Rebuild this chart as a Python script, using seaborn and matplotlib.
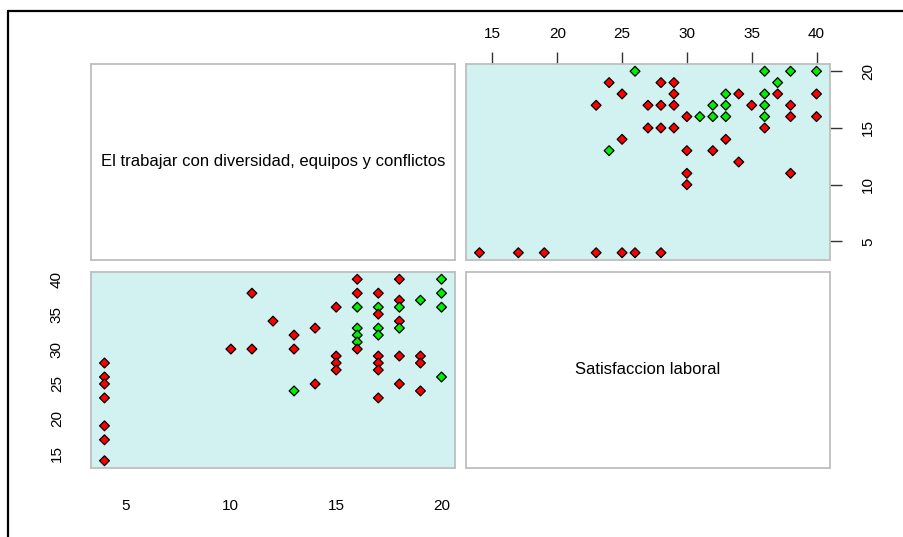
import matplotlib
matplotlib.use("Agg")
import matplotlib.pyplot as plt
import pandas as pd
import seaborn as sns
from matplotlib.lines import Line2D

# datos (pares)
satisfaccion = [4, 4, 4, 4, 4, 4, 4,
                10,
                11, 11,
                12,
                13, 13, 13,
                14, 14,
                15, 15, 15, 15,
                16, 16, 16, 16, 16, 16, 16,
                17, 17, 17, 17, 17, 17, 17, 17, 17,
                18, 18, 18, 18, 18, 18, 18,
                19, 19, 19, 19,
                20, 20, 20, 20]
trabajar = [28, 26, 25, 23, 19, 17, 14,
            30,
            38, 30,
            34,
            32, 30, 24,
            33, 25,
            36, 29, 28, 27,
            40, 38, 36, 33, 32, 31, 30,
            38, 36, 35, 33, 32, 29, 28, 27, 23,
            40, 37, 36, 34, 33, 29, 25,
            37, 29, 28, 24,
            40, 38, 36, 26]
grupo = ["r", "r", "r", "r", "r", "r", "r",
         "r",
         "r", "r",
         "r",
         "r", "r", "g",
         "r", "r",
         "r", "r", "r", "r",
         "r", "r", "g", "g", "g", "g", "r",
         "r", "g", "r", "g", "g", "r", "r", "r", "r",
         "r", "r", "g", "r", "g", "r", "r",
         "g", "r", "r", "r",
         "g", "g", "g", "g"]
etiquetas = ["El trabajar con diversidad, equipos y conflictos", "Satisfaccion laboral"]

df = pd.DataFrame({"trabajar": trabajar, "satisfaccion": satisfaccion, "grupo": grupo})
colores = {"r": "#ff0000", "g": "#00ee00"}

sns.set_style("white")
plt.rcParams["font.family"] = ["Liberation Sans", "DejaVu Sans"]

W, H = 904, 537
fig = plt.figure(figsize=(W / 100, H / 100), dpi=100)


def panel(l, t, r, b):
    return fig.add_axes([l / W, 1 - b / H, (r - l) / W, (b - t) / H])


def extend(lo, hi):
    d = (hi - lo) * 0.04
    return lo - d, hi + d


lim_t = extend(min(trabajar), max(trabajar))
lim_s = extend(min(satisfaccion), max(satisfaccion))

ax_tl = panel(91, 64, 455, 260)
ax_tr = panel(466, 64, 830, 260)
ax_bl = panel(91, 272, 455, 468)
ax_br = panel(466, 272, 830, 468)

for ax in [ax_tl, ax_tr, ax_bl, ax_br]:
    for s in ax.spines.values():
        s.set_visible(True)
        s.set_color("#bebebe")
        s.set_linewidth(1.3)

for ax in [ax_tr, ax_bl]:
    ax.set_facecolor("#d2f2f1")

# scatter panels
sns.scatterplot(data=df, x="trabajar", y="satisfaccion", hue="grupo", palette=colores,
                marker="D", s=25, edgecolor="black", linewidth=0.9, legend=False, ax=ax_tr)
sns.scatterplot(data=df, x="satisfaccion", y="trabajar", hue="grupo", palette=colores,
                marker="D", s=25, edgecolor="black", linewidth=0.9, legend=False, ax=ax_bl)

ax_tr.set_xlim(lim_t)
ax_tr.set_ylim(lim_s)
ax_tr.set_xticks([15, 20, 25, 30, 35, 40])
ax_tr.set_yticks([5, 10, 15, 20])
ax_tr.xaxis.tick_top()
ax_tr.yaxis.tick_right()

ax_bl.set_xlim(lim_s)
ax_bl.set_ylim(lim_t)
ax_bl.set_xticks([5, 10, 15, 20])
ax_bl.set_yticks([15, 20, 25, 30, 35, 40])

for ax in [ax_tr, ax_bl]:
    ax.set_xlabel("")
    ax.set_ylabel("")
    ax.tick_params(axis="both", direction="out", length=8.5, width=1, color="#333333",
                   labelsize=11, labelcolor="black")
    for lab in ax.get_yticklabels():
        lab.set_rotation(90)
        lab.set_va("center")
ax_tr.tick_params(axis="x", pad=8)
ax_tr.tick_params(axis="y", pad=14)
ax_bl.tick_params(axis="x", pad=14)
ax_bl.tick_params(axis="y", pad=11)

# diagonal
for ax, txt in [(ax_tl, etiquetas[0]), (ax_br, etiquetas[1])]:
    ax.set_xticks([])
    ax.set_yticks([])
    ax.set_facecolor("white")
    ax.text(0.5, 0.5, txt, ha="center", va="center", fontsize=12, color="black",
            transform=ax.transAxes)

# marco de la captura
fig.add_artist(Line2D([8 / W, 8 / W], [0, 1 - 11 / H], color="black", lw=1.6))
fig.add_artist(Line2D([8 / W, 1], [1 - 11 / H, 1 - 11 / H], color="black", lw=1.6))

fig.savefig("out.png", dpi=100)
